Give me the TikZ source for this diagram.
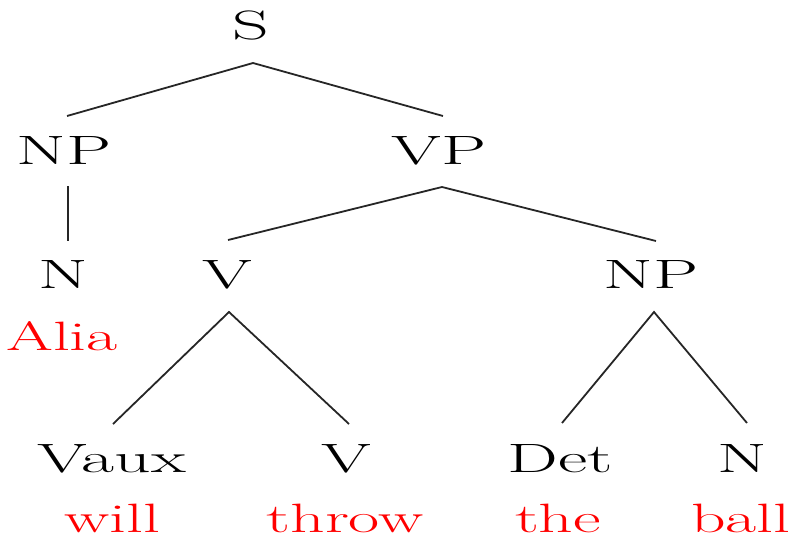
\documentclass[tikz,border=0pt]{standalone}
\usetikzlibrary{positioning}
\newcommand{\wide}[1]{\scalebox{1.75}[1]{#1}}
\newcommand{\widew}[1]{\scalebox{1.65}[1]{#1}}
\tikzset{
  lab/.style={inner sep=0pt, anchor=base, font=\fontsize{41}{48}\selectfont, text=black},
  word/.style={lab, text=red},
  branch/.style={draw=black!85, line width=1.8pt},
}
\begin{document}
\begin{tikzpicture}[x=1pt,y=-1pt]
\useasboundingbox (0,0) rectangle (792,538);
% labels
\node[lab] (S) at (251,39) {\wide{S}};
\node[lab] (NP1) at (64,164) {\wide{NP}};
\node[lab] (VP) at (439,164) {\wide{VP}};
\node[lab] (N1) at (63,288) {\wide{N}};
\node[lab] (V1) at (227,288) {\wide{V}};
\node[lab] (NP2) at (651,288) {\wide{NP}};
\node[word] (Alia) at (62,350) {\widew{Alia}};
\node[lab] (Vaux) at (112,472) {\wide{Vaux}};
\node[lab] (V2) at (346,472) {\wide{V}};
\node[lab] (Det) at (560,472) {\wide{Det}};
\node[lab] (N2) at (742,472) {\wide{N}};
\node[word] (will) at (112,532) {\widew{will}};
\node[word] (throw) at (345,532) {\widew{throw}};
\node[word] (the) at (558,532) {\widew{the}};
\node[word] (ball) at (741,532) {\widew{ball}};
% attachment points
\coordinate (Sb) at (253,63);
\coordinate (NP1t) at (67,116);
\coordinate (VPt) at (443,116);
\coordinate (NP1b) at (68,186);
\coordinate (N1t) at (68,241);
\coordinate (VPb) at (442,187);
\coordinate (V1t) at (228,240);
\coordinate (NP2t) at (656,241);
\coordinate (V1b) at (229,312);
\coordinate (Vauxt) at (113,424);
\coordinate (V2t) at (349,424);
\coordinate (NP2b) at (654,312);
\coordinate (Dett) at (562,423);
\coordinate (N2t) at (747,423);
% branches
\draw[branch] (NP1t) -- (Sb) -- (VPt);
\draw[branch] (NP1b) -- (N1t);
\draw[branch] (V1t) -- (VPb) -- (NP2t);
\draw[branch] (Vauxt) -- (V1b) -- (V2t);
\draw[branch] (Dett) -- (NP2b) -- (N2t);
\end{tikzpicture}
\end{document}
